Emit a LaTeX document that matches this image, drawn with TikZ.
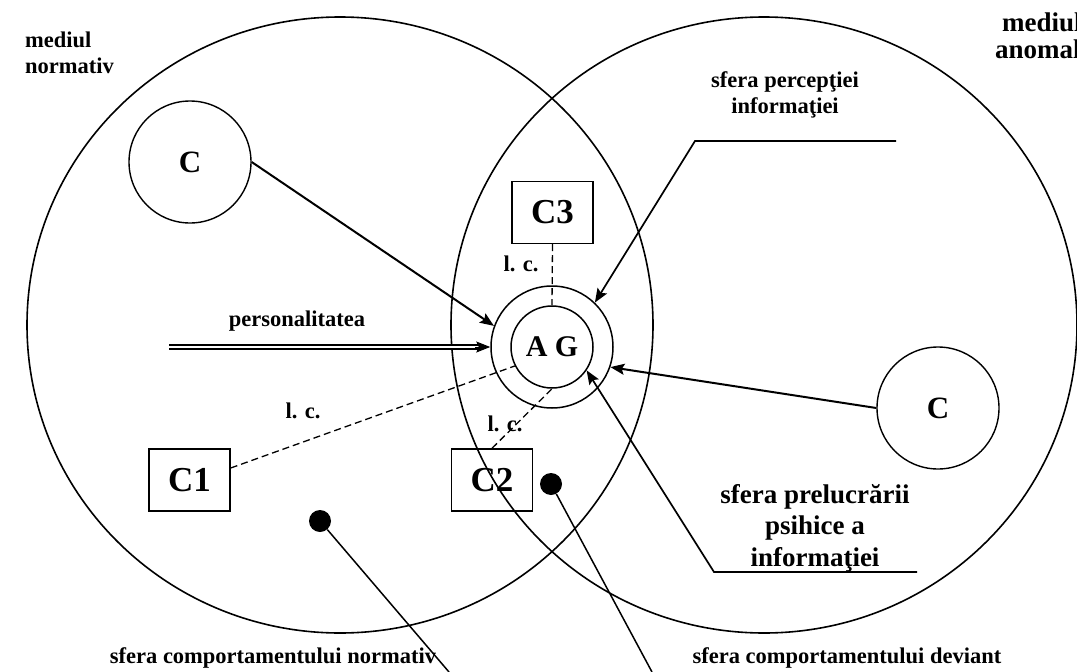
\documentclass[tikz,border=0pt]{standalone}
\usepackage{fontspec}
\setmainfont{Liberation Serif}
\usetikzlibrary{arrows.meta,shapes.geometric}
\begin{document}
\begin{tikzpicture}[x=1pt,y=-1pt,
  env/.style={draw, ellipse, line width=1.6pt, minimum width=626pt, minimum height=616pt, inner sep=0pt},
  src/.style={draw, circle, line width=1.4pt, minimum size=122pt, inner sep=0pt, font=\fontsize{31}{34}\selectfont\bfseries},
  agring/.style={draw, circle, line width=1.5pt, inner sep=0pt},
  cbox/.style={draw, rectangle, line width=1.4pt, minimum width=81pt, minimum height=62pt, inner sep=0pt, font=\fontsize{35}{38}\selectfont\bfseries},
  lbl/.style={inner sep=0pt, anchor=base, font=\fontsize{22.5}{26}\selectfont\bfseries},
  biglbl/.style={inner sep=0pt, anchor=base, font=\fontsize{27}{31}\selectfont\bfseries},
  tip/.style={-{Stealth[length=14pt,width=11pt,inset=2.5pt]}},
  arr/.style={line width=2pt, tip},
  lc/.style={line width=1.3pt, dash pattern=on 7pt off 4pt},
  dotn/.style={circle, fill=black, minimum size=22pt, inner sep=0pt},
  lead/.style={line width=1.5pt}
]
\useasboundingbox (0,0) rectangle (1077,672);

% environments
\node[env] (envN) at (340,325) {};
\node[env] (envA) at (764,325) {};

% sources
\node[src] (ctl) at (190,162) {C};
\node[src] (cr) at (938,408) {C};

% AG rings
\node[agring, minimum size=122pt] (agout) at (552,347) {};
\node[agring, minimum size=82pt, font=\fontsize{30}{34}\selectfont\bfseries] (agin) at (552,347) {A G};

% boxes
\node[cbox] (c1) at (189.5,480) {C1};
\node[cbox] (c2) at (492,480) {C2};
\node[cbox] (c3) at (552.5,212.5) {C3};

% dots
\node[dotn] (d1) at (320,521) {};
\node[dotn] (d2) at (551,484) {};
\coordinate (e1) at (449,672);
\coordinate (e2) at (652,672);

% leader corners
\coordinate (p1) at (896,141);
\coordinate (p2) at (695,141);
\coordinate (q1) at (917,572);
\coordinate (q2) at (714,572);
\coordinate (ps) at (169,347);

% texts
\node[lbl, anchor=base west] (mn1) at (25,47) {mediul};
\node[lbl, anchor=base west] (mn2) at (25,73) {normativ};
\node[lbl, anchor=base west, font=\fontsize{27}{29}\selectfont\bfseries] (ma1) at (1002,31) {mediul};
\node[lbl, anchor=base west, font=\fontsize{27}{29}\selectfont\bfseries] (ma2) at (995,58) {anomal};
\node[lbl] (sp1) at (785,87) {sfera percepţiei};
\node[lbl] (sp2) at (785,113) {informaţiei};
\node[lbl] (pers) at (297,326) {personalitatea};
\node[lbl] (lc1) at (303,418) {l. c.};
\node[lbl] (lc3) at (521,271) {l. c.};
\node[lbl] (lc2) at (505,431) {l. c.};
\node[biglbl] (pr1) at (815,503) {sfera prelucrării};
\node[biglbl] (pr2) at (815,534) {psihice a};
\node[biglbl] (pr3) at (815,566) {informaţiei};
\node[lbl] (bn) at (273,663) {sfera comportamentului normativ};
\node[lbl] (bd) at (847,663) {sfera comportamentului deviant};

% connectors
\draw[arr] (ctl.east) -- (agout.160);
\draw[arr] (cr.west) -- (agout.-19);
\draw[arr, line width=1.7pt] (p1) -- (p2) -- (agout.46);
\draw[arr, line width=1.7pt] (q1) -- (q2) -- (agin.-34);
\draw[line width=1.8pt, double, double distance=1.8pt, shorten >=12pt] (ps) -- (agout.west);
\draw[line width=1pt, tip] ([xshift=-15pt]agout.west) -- (agout.west);

\draw[lc] ([yshift=12pt]c1.east) -- (agin.207);
\draw[lc] (c2.north) -- (agin.south);
\draw[lc] (c3.south) -- (agin.north);

\draw[lead] (d1) -- (e1);
\draw[lead] (d2) -- (e2);
\end{tikzpicture}
\end{document}
